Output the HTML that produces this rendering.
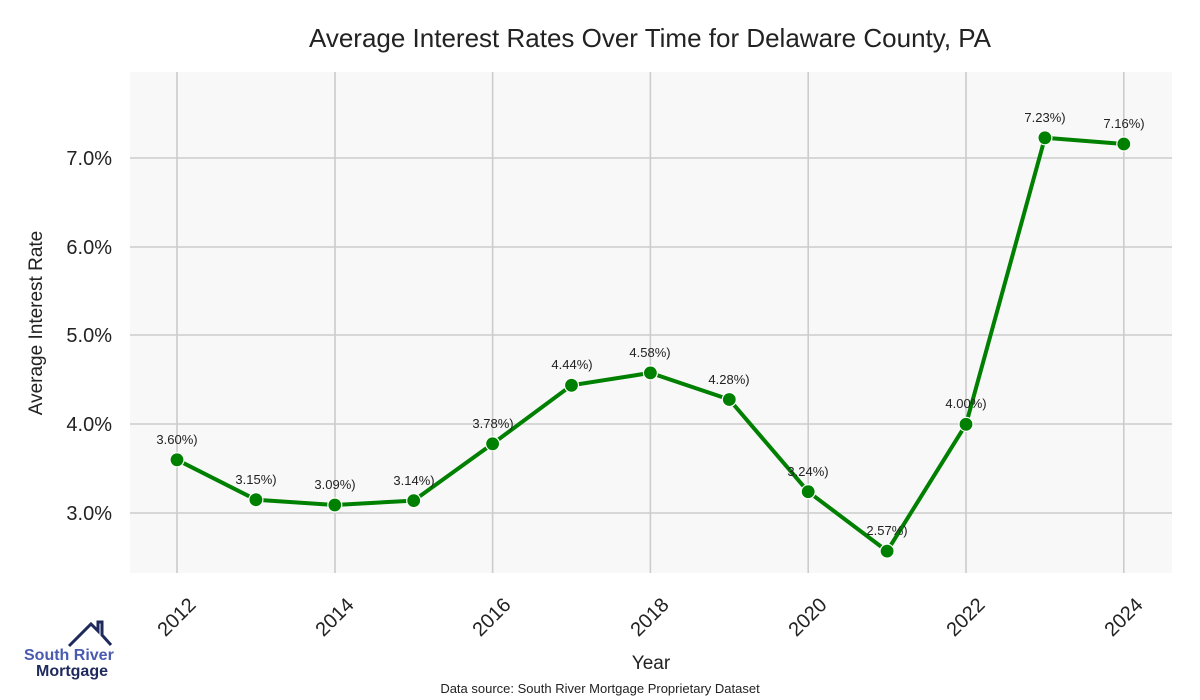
<!DOCTYPE html>
<html><head><meta charset="utf-8"><style>
html,body{margin:0;padding:0;background:#fff;}
svg{display:block;font-family:"Liberation Sans",sans-serif;}
</style></head><body>
<svg width="1200" height="700" xmlns="http://www.w3.org/2000/svg">
<rect width="1200" height="700" fill="#fff"/>
<rect x="130" y="72" width="1042" height="501" fill="#f8f8f8"/>
<g stroke="#cccccc" stroke-width="1.6">
<line x1="177" y1="72" x2="177" y2="573"/><line x1="335" y1="72" x2="335" y2="573"/>
<line x1="492.6" y1="72" x2="492.6" y2="573"/><line x1="650.4" y1="72" x2="650.4" y2="573"/>
<line x1="808.2" y1="72" x2="808.2" y2="573"/><line x1="966" y1="72" x2="966" y2="573"/>
<line x1="1123.8" y1="72" x2="1123.8" y2="573"/>
<line x1="130" y1="158" x2="1172" y2="158"/><line x1="130" y1="247" x2="1172" y2="247"/>
<line x1="130" y1="335" x2="1172" y2="335"/><line x1="130" y1="424" x2="1172" y2="424"/>
<line x1="130" y1="513" x2="1172" y2="513"/>
</g>
<text x="650" y="47" font-size="26" fill="#222" text-anchor="middle">Average Interest Rates Over Time for Delaware County, PA</text>
<g font-size="20" fill="#222" text-anchor="end">
<text x="112" y="165">7.0%</text><text x="112" y="254">6.0%</text><text x="112" y="342">5.0%</text>
<text x="112" y="431">4.0%</text><text x="112" y="520">3.0%</text>
</g>
<text transform="translate(42,323) rotate(-90)" font-size="19" fill="#222" text-anchor="middle">Average Interest Rate</text>
<g font-size="20" fill="#222" text-anchor="end">
<text transform="translate(197,606) rotate(-45)">2012</text>
<text transform="translate(355,606) rotate(-45)">2014</text>
<text transform="translate(512,606) rotate(-45)">2016</text>
<text transform="translate(670,606) rotate(-45)">2018</text>
<text transform="translate(828,606) rotate(-45)">2020</text>
<text transform="translate(986,606) rotate(-45)">2022</text>
<text transform="translate(1144,606) rotate(-45)">2024</text>
</g>
<text x="651" y="669" font-size="19" fill="#222" text-anchor="middle">Year</text>
<text x="600" y="693" font-size="13" fill="#222" text-anchor="middle">Data source: South River Mortgage Proprietary Dataset</text>
<polyline fill="none" stroke="#008000" stroke-width="4" stroke-linejoin="round" points="177,459.8 255.9,499.7 334.8,505 413.7,500.6 492.6,443.8 571.5,385.3 650.4,372.9 729.3,399.5 808.2,491.7 887.1,551.1 966,424.3 1044.9,137.8 1123.8,144"/>
<g fill="#008000" stroke="#fff" stroke-width="1.2">
<circle cx="177" cy="459.8" r="7"/><circle cx="255.9" cy="499.7" r="7"/><circle cx="334.8" cy="505" r="7"/>
<circle cx="413.7" cy="500.6" r="7"/><circle cx="492.6" cy="443.8" r="7"/><circle cx="571.5" cy="385.3" r="7"/>
<circle cx="650.4" cy="372.9" r="7"/><circle cx="729.3" cy="399.5" r="7"/><circle cx="808.2" cy="491.7" r="7"/>
<circle cx="887.1" cy="551.1" r="7"/><circle cx="966" cy="424.3" r="7"/><circle cx="1044.9" cy="137.8" r="7"/>
<circle cx="1123.8" cy="144" r="7"/>
</g>
<g font-size="13" fill="#222" text-anchor="middle">
<text x="177" y="444">3.60%)</text><text x="256" y="484">3.15%)</text><text x="335" y="489">3.09%)</text>
<text x="414" y="485">3.14%)</text><text x="493" y="428">3.78%)</text><text x="572" y="369">4.44%)</text>
<text x="650" y="357">4.58%)</text><text x="729" y="384">4.28%)</text><text x="808" y="476">3.24%)</text>
<text x="887" y="535">2.57%)</text><text x="966" y="408">4.00%)</text><text x="1045" y="122">7.23%)</text>
<text x="1124" y="128">7.16%)</text>
</g>
<polyline fill="none" stroke="#1f2a5c" stroke-width="3" points="69,646 91,624 98,631 98,622 102,622 102,635 111,645"/>
<text x="24" y="660" font-size="16" font-weight="bold" fill="#4a5ab0">South River</text>
<text x="36" y="676" font-size="16" font-weight="bold" fill="#1f2a5c">Mortgage</text>
</svg>
</body></html>
